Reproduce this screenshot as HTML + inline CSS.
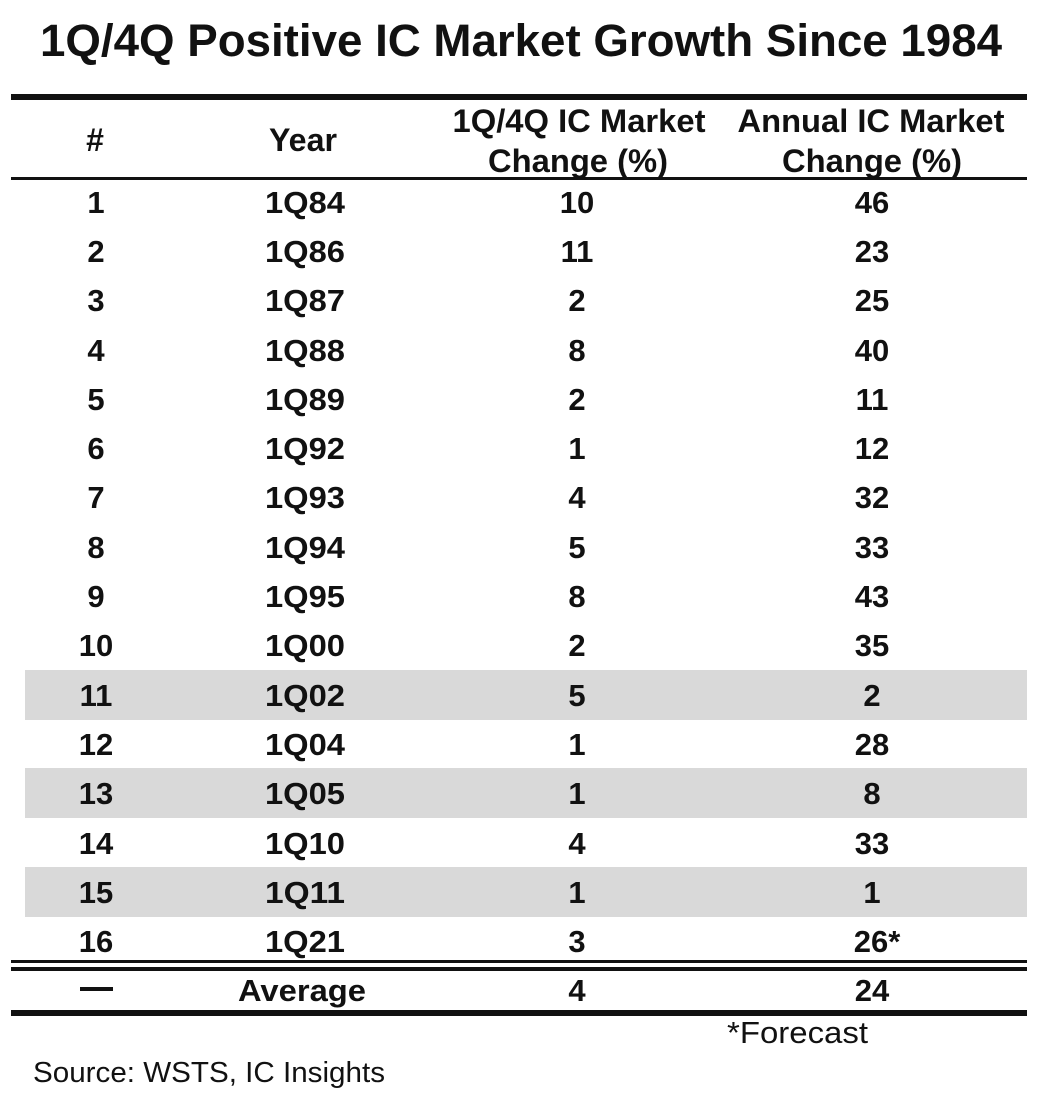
<!DOCTYPE html>
<html><head><meta charset="utf-8"><style>
html,body{margin:0;padding:0;background:#fff;}
svg{display:block;}
text{font-family:"Liberation Sans",Arial,sans-serif;fill:#111;}
.b{font-weight:bold;}
</style></head><body>
<svg width="1054" height="1095" viewBox="0 0 1054 1095" xmlns="http://www.w3.org/2000/svg">
<text class="b" x="521" y="56" font-size="45" text-anchor="middle" textLength="962" lengthAdjust="spacingAndGlyphs">1Q/4Q Positive IC Market Growth Since 1984</text>
<rect x="11" y="94" width="1016" height="6" fill="#111"/>
<text class="b" x="95" y="151" font-size="32" text-anchor="middle">#</text>
<text class="b" x="303" y="151" font-size="32" text-anchor="middle" textLength="68" lengthAdjust="spacingAndGlyphs">Year</text>
<text class="b" x="579" y="132" font-size="32" text-anchor="middle" textLength="253" lengthAdjust="spacingAndGlyphs">1Q/4Q IC Market</text>
<text class="b" x="578" y="172" font-size="32" text-anchor="middle" textLength="180" lengthAdjust="spacingAndGlyphs">Change (%)</text>
<text class="b" x="871" y="132" font-size="32" text-anchor="middle" textLength="267" lengthAdjust="spacingAndGlyphs">Annual IC Market</text>
<text class="b" x="872" y="172" font-size="32" text-anchor="middle" textLength="180" lengthAdjust="spacingAndGlyphs">Change (%)</text>
<rect x="11" y="177" width="1016" height="3" fill="#111"/>
<rect x="25" y="670" width="1002" height="50" fill="#d9d9d9"/>
<rect x="25" y="768" width="1002" height="50" fill="#d9d9d9"/>
<rect x="25" y="867" width="1002" height="50" fill="#d9d9d9"/>
<g class="b" font-size="31" text-anchor="middle" font-weight="bold">
<text x="96" y="213">1</text><text x="305" y="213" textLength="80" lengthAdjust="spacingAndGlyphs">1Q84</text><text x="577" y="213">10</text><text x="872" y="213">46</text>
<text x="96" y="262">2</text><text x="305" y="262" textLength="80" lengthAdjust="spacingAndGlyphs">1Q86</text><text x="577" y="262">11</text><text x="872" y="262">23</text>
<text x="96" y="311">3</text><text x="305" y="311" textLength="80" lengthAdjust="spacingAndGlyphs">1Q87</text><text x="577" y="311">2</text><text x="872" y="311">25</text>
<text x="96" y="361">4</text><text x="305" y="361" textLength="80" lengthAdjust="spacingAndGlyphs">1Q88</text><text x="577" y="361">8</text><text x="872" y="361">40</text>
<text x="96" y="410">5</text><text x="305" y="410" textLength="80" lengthAdjust="spacingAndGlyphs">1Q89</text><text x="577" y="410">2</text><text x="872" y="410">11</text>
<text x="96" y="459">6</text><text x="305" y="459" textLength="80" lengthAdjust="spacingAndGlyphs">1Q92</text><text x="577" y="459">1</text><text x="872" y="459">12</text>
<text x="96" y="508">7</text><text x="305" y="508" textLength="80" lengthAdjust="spacingAndGlyphs">1Q93</text><text x="577" y="508">4</text><text x="872" y="508">32</text>
<text x="96" y="558">8</text><text x="305" y="558" textLength="80" lengthAdjust="spacingAndGlyphs">1Q94</text><text x="577" y="558">5</text><text x="872" y="558">33</text>
<text x="96" y="607">9</text><text x="305" y="607" textLength="80" lengthAdjust="spacingAndGlyphs">1Q95</text><text x="577" y="607">8</text><text x="872" y="607">43</text>
<text x="96" y="656">10</text><text x="305" y="656" textLength="80" lengthAdjust="spacingAndGlyphs">1Q00</text><text x="577" y="656">2</text><text x="872" y="656">35</text>
<text x="96" y="706">11</text><text x="305" y="706" textLength="80" lengthAdjust="spacingAndGlyphs">1Q02</text><text x="577" y="706">5</text><text x="872" y="706">2</text>
<text x="96" y="755">12</text><text x="305" y="755" textLength="80" lengthAdjust="spacingAndGlyphs">1Q04</text><text x="577" y="755">1</text><text x="872" y="755">28</text>
<text x="96" y="804">13</text><text x="305" y="804" textLength="80" lengthAdjust="spacingAndGlyphs">1Q05</text><text x="577" y="804">1</text><text x="872" y="804">8</text>
<text x="96" y="854">14</text><text x="305" y="854" textLength="80" lengthAdjust="spacingAndGlyphs">1Q10</text><text x="577" y="854">4</text><text x="872" y="854">33</text>
<text x="96" y="903">15</text><text x="305" y="903" textLength="80" lengthAdjust="spacingAndGlyphs">1Q11</text><text x="577" y="903">1</text><text x="872" y="903">1</text>
<text x="96" y="952">16</text><text x="305" y="952" textLength="80" lengthAdjust="spacingAndGlyphs">1Q21</text><text x="577" y="952">3</text><text x="877" y="952">26*</text>
</g>
<rect x="11" y="960" width="1016" height="3" fill="#111"/>
<rect x="11" y="967" width="1016" height="4" fill="#111"/>
<rect x="80" y="987" width="33" height="4" fill="#111"/>
<text class="b" x="302" y="1001" font-size="31" text-anchor="middle" textLength="128" lengthAdjust="spacingAndGlyphs">Average</text>
<text class="b" x="577" y="1001" font-size="31" text-anchor="middle">4</text>
<text class="b" x="872" y="1001" font-size="31" text-anchor="middle">24</text>
<rect x="11" y="1010" width="1016" height="6" fill="#111"/>
<text x="727" y="1043" font-size="31" textLength="141" lengthAdjust="spacingAndGlyphs">*Forecast</text>
<text x="33" y="1082" font-size="29" fill="#222" textLength="352" lengthAdjust="spacingAndGlyphs">Source: WSTS, IC Insights</text>
</svg>
</body></html>
